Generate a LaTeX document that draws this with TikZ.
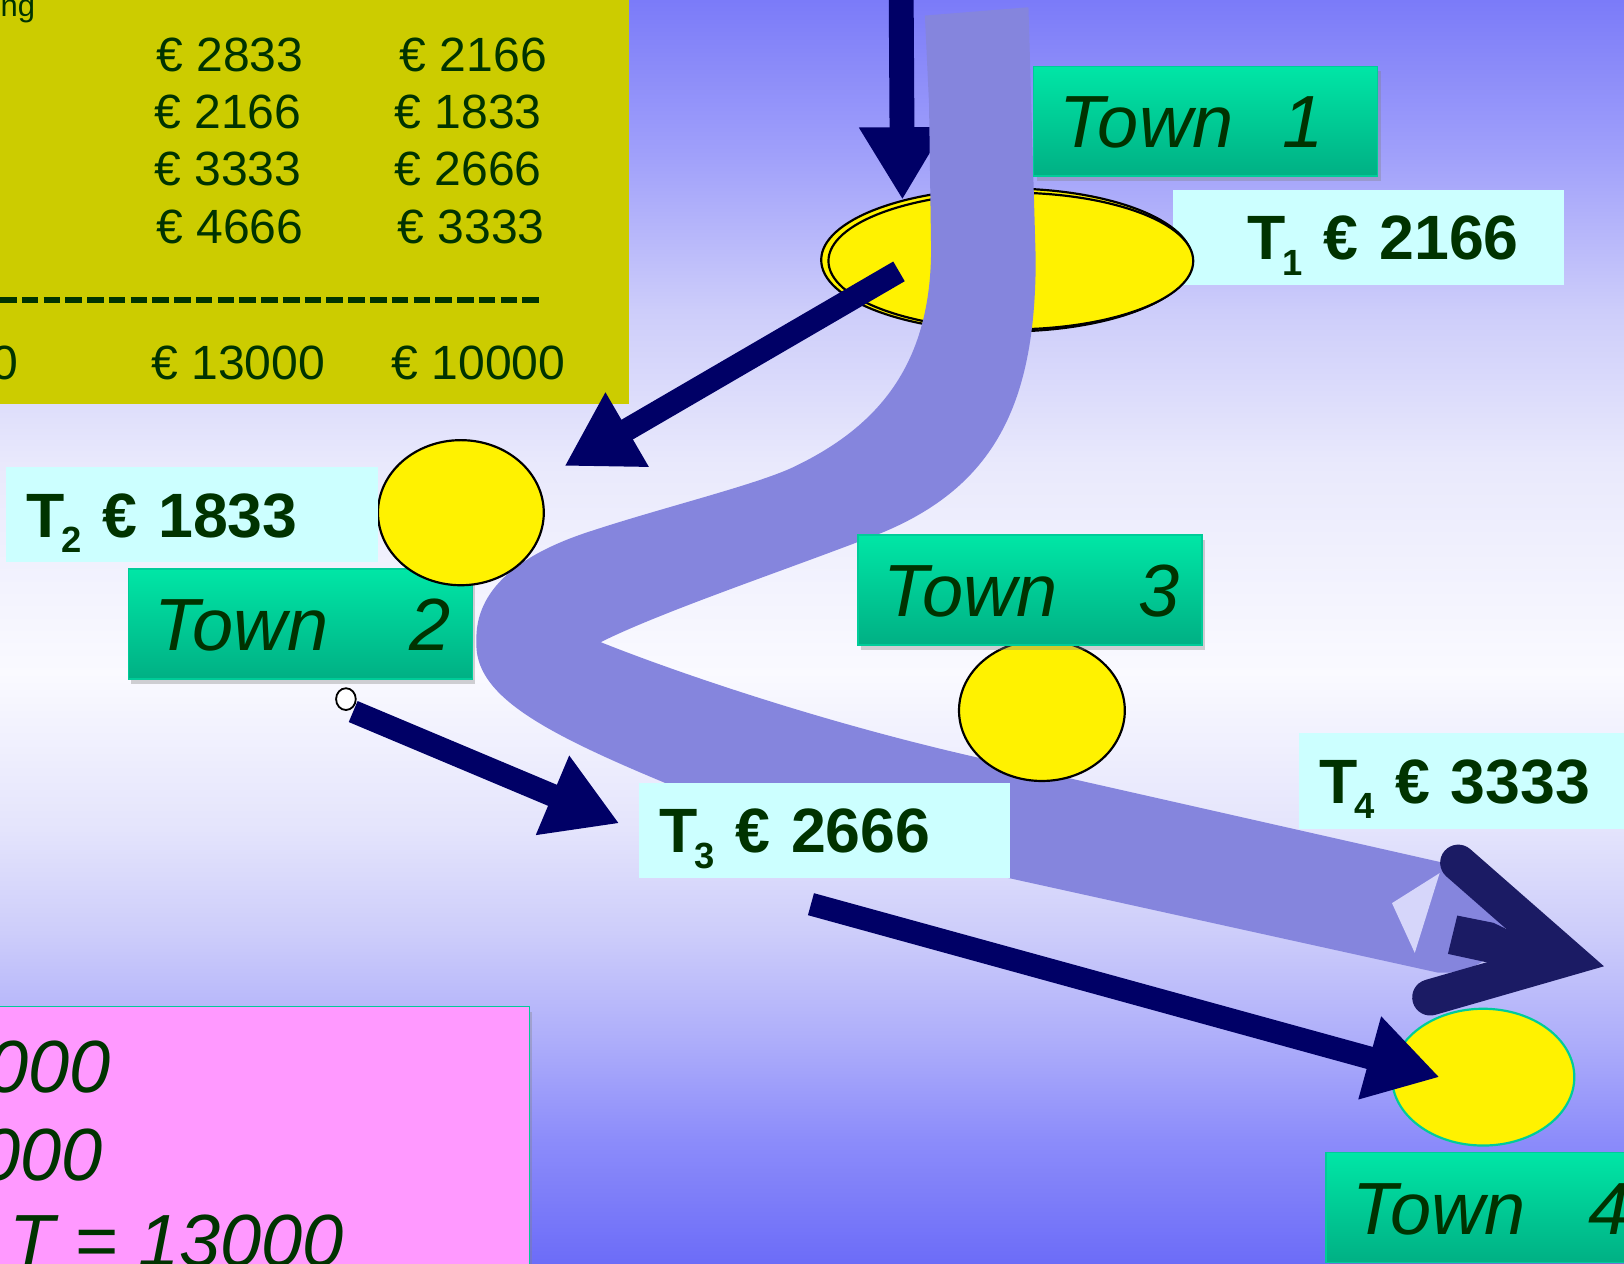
\documentclass[tikz,border=0pt]{standalone}
\usepackage{fontspec}
\setmainfont{Liberation Sans}
\usetikzlibrary{arrows.meta,shapes.geometric,shadows}

\definecolor{bandc}{RGB}{133,133,221}
\definecolor{navy}{RGB}{0,0,102}
\definecolor{headc}{RGB}{27,27,100}
\definecolor{gapc}{RGB}{214,214,250}
\definecolor{olive}{RGB}{204,204,0}
\definecolor{ink}{RGB}{0,51,0}
\definecolor{cyanbox}{RGB}{204,255,255}
\definecolor{towntop}{RGB}{0,230,166}
\definecolor{townbot}{RGB}{0,176,132}
\definecolor{townline}{RGB}{0,204,153}
\definecolor{pinkbox}{RGB}{255,153,255}

\pgfdeclareverticalshading{sky}{100bp}{%
  rgb(0bp)=(.424,.424,.973); rgb(25bp)=(.424,.424,.973);
  rgb(29.9bp)=(.549,.549,.98); rgb(34bp)=(.686,.686,.98);
  rgb(38.1bp)=(.804,.804,.98); rgb(42.2bp)=(.894,.894,.988);
  rgb(48.4bp)=(.98,.98,1); rgb(56.6bp)=(.914,.914,.988);
  rgb(62.7bp)=(.804,.804,.98); rgb(68.9bp)=(.627,.627,.98);
  rgb(75bp)=(.482,.482,.976); rgb(100bp)=(.482,.482,.976)}

% lowered index after the T
\newcommand\tsub[1]{\kern-1pt\raisebox{-4.3pt}{\fontsize{10}{10}\selectfont #1}}

\begin{document}
\begin{tikzpicture}[x=0.01cm, y=-0.01cm,
    num/.style={text=ink, font=\fontsize{13.2}{15}\selectfont, inner sep=0pt},
    big/.style={text=ink, font=\fontsize{20.3}{24}\selectfont\itshape, inner sep=0pt},
    town/.style={draw=townline, line width=0.4pt, top color=towntop, bottom color=townbot,
      text=ink, font=\fontsize{20.3}{24}\selectfont\itshape, text width=2.82cm,
      text height=0.51cm, text depth=0pt,
      inner xsep=0.25cm, inner ysep=0pt, minimum height=1.06cm, align=left,
      drop shadow={shadow xshift=0.03cm, shadow yshift=-0.05cm, opacity=0.35}},
    cost/.style={fill=cyanbox, text=ink, font=\fontsize{17.2}{20}\selectfont\bfseries,
      text width=3.18cm, text height=0.43cm, text depth=0pt,
      inner xsep=0.2cm, inner ysep=0pt, minimum height=0.92cm, align=left},
    site/.style={ellipse, draw=black, line width=0.6pt, fill=yellow, inner sep=0pt},
    arr/.style={draw=navy, line width=0.22cm, -{Triangle[length=0.7cm, width=0.78cm]}}]
  \useasboundingbox (0,0) rectangle (1568,1220);
  \clip (0,0) rectangle (1568,1220);
  \shade[shading=sky] (0,0) rectangle (1568,1220);

  % price table
  \fill[olive] (-5,-5) rectangle (607,390);
  \draw[ink, line width=0.06cm, dash pattern=on 0.16cm off 0.05cm] (0,290) -- (522,290);
  \draw
    (0,16) node[num, anchor=base west, font=\fontsize{8.5}{10}\selectfont] (head){ng}
    (222,53.5) node[num] (c1){€ 2833}
    (220,108.5) node[num] (c2){€ 2166}
    (220,163.5) node[num] (c3){€ 3333}
    (222,219) node[num] (c4){€ 4666}
    (457,53.5) node[num] (d1){€ 2166}
    (452,108.5) node[num] (d2){€ 1833}
    (452,163.5) node[num] (d3){€ 2666}
    (455,219) node[num] (d4){€ 3333}
    (18,350) node[num, anchor=east] (bsum){0}
    (230,350) node[num] (csum){€ 13000}
    (462,350) node[num] (dsum){€ 10000};

  % totals
  \draw[draw=townline, fill=pinkbox, drop shadow={shadow xshift=0.03cm, shadow yshift=-0.05cm, opacity=0.35}]
    (-10,972) rectangle (511,1240);
  \draw
    (108,1055) node[big, anchor=base east] (p1){000}
    (100,1140) node[big, anchor=base east] (p2){000}
    (8,1223) node[big, anchor=base west] (p3){T = 13000};

  \node[cost, text width=3.37cm] (t1) at (1321.5,229) {\hspace*{0.52cm}T\tsub{1} € 2166};
  \node[site, minimum width=3.58cm, minimum height=1.38cm] (e1) at (972,251) {};
  \node[site, minimum width=3.52cm, minimum height=1.32cm] (e1b) at (976,252) {};

  \coordinate (in) at (870,-20);
  \coordinate (a1) at (868,262);
  \coordinate (b1) at (545,450);
  \begin{scope}[arr]
    \draw[line width=0.24cm] (in) to (e1.150);
    \draw (a1) to (b1);
  \end{scope}

  % route
  \fill[bandc] (893,15) -- (993,7) -- (1000,250)
    .. controls (1000,390) and (960,470) .. (850,515)
    .. controls (760,550) and (640,590) .. (580,620)
    .. controls (650,648) and (800,700) .. (960,735)
    -- (1398,834) -- (1455,893) -- (1432,928)
    .. controls (1418,937) and (1405,940) .. (1388,939)
    -- (975,848)
    .. controls (850,820) and (720,790) .. (640,755)
    .. controls (520,705) and (458,670) .. (460,620)
    .. controls (458,570) and (500,535) .. (573,512)
    .. controls (640,490) and (730,468) .. (766,451)
    .. controls (850,411) and (899,350) .. (899,240)
    -- (897,100) -- cycle;
  \fill[gapc] (1344,872) -- (1390,843) -- (1366,920) -- cycle;
  \fill[headc] (1407,884) -- (1442,891) -- (1513,925) -- (1435,929) -- (1398,921) -- cycle;
  \draw[headc, line width=0.35cm, line cap=round] (1408,833) -- (1513,925) -- (1381,963);

  \node[town] (town1) at (1164,117) {\mbox{Town\hspace{0.47cm}1}};
  \node[town] (town2) at (290,602.5) {\mbox{Town\hspace{0.78cm}2}};
  \node[site, minimum width=1.6cm, minimum height=1.4cm] (e2) at (445,495) {};
  \node[site, minimum width=1.6cm, minimum height=1.36cm] (e3) at (1006,686) {};
  \node[town] (town3) at (994.5,569.5) {\mbox{Town\hspace{0.78cm}3}};
  \node[site, draw=townline, minimum width=1.76cm, minimum height=1.32cm] (e4) at (1432,1040) {};
  \node[town] (town4) at (1446.5,1166) {\mbox{Town\hspace{0.6cm}4}};

  \node[cost, text width=3.19cm] (t2) at (185.5,497) {T\tsub{2} € 1833};
  \node[cost] (t3) at (796,802) {T\tsub{3} € 2666};
  \node[cost] (t4) at (1433,754) {T\tsub{4} € 3333};

  \node[ellipse, draw=black, fill=white, line width=0.5pt, inner sep=0pt,
    minimum width=0.19cm, minimum height=0.21cm] (dot) at (334,675) {};

  \coordinate (a2) at (341,687);
  \coordinate (b2) at (598,795);
  \coordinate (a3) at (783,873);
  \coordinate (b3) at (1390,1040);
  \begin{scope}[arr]
    \draw (a2) to (b2);
    \draw (a3) to (b3);
  \end{scope}
\end{tikzpicture}
\end{document}
